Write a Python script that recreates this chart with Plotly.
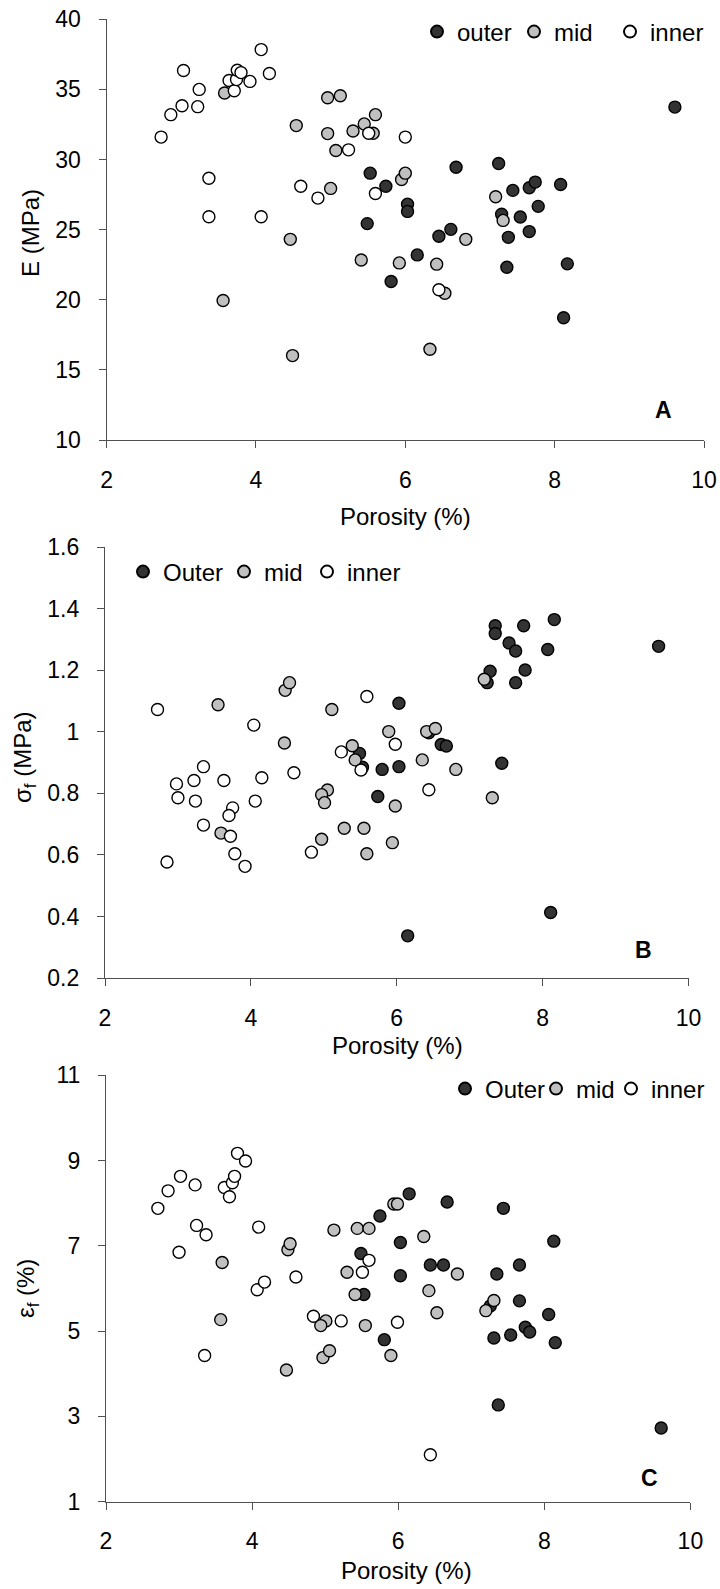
import plotly.graph_objects as go

W, H = 720, 1589

# ---------------- Panel A : E (MPa) ----------------
a_outer_x = [5.53, 5.49, 5.74, 6.03, 6.03, 6.16, 6.45, 6.61, 6.68, 7.25, 7.29, 7.44, 7.38, 7.54,
             7.66, 7.66, 7.74, 7.78, 8.08, 9.61, 5.81, 7.36, 8.17, 8.12]
a_outer_y = [29.03, 25.43, 28.10, 26.82, 26.30, 23.20, 24.53, 25.02, 29.45, 29.72, 26.10, 27.80, 24.45, 25.90,
             27.99, 24.86, 28.39, 26.66, 28.22, 33.74, 21.30, 22.32, 22.56, 18.72]
a_mid_x = [3.58, 4.54, 4.46, 4.96, 5.13, 4.96, 5.00, 5.07, 5.30, 5.45, 5.60, 5.57, 5.95, 6.00,
           6.81, 7.21, 7.31, 3.56, 4.49, 5.41, 5.92, 6.42, 6.53, 6.33]
a_mid_y = [34.74, 32.42, 24.31, 34.41, 34.55, 31.85, 27.94, 30.64, 32.04, 32.54, 33.20, 31.87, 28.58, 29.03,
           24.31, 27.35, 25.66, 19.95, 16.02, 22.84, 22.63, 22.54, 20.47, 16.47]
a_inner_x = [2.73, 2.86, 3.01, 3.03, 3.22, 3.24, 3.37, 3.37, 3.64, 3.71, 3.74, 3.75, 3.80, 3.92,
             4.07, 4.07, 4.18, 4.60, 4.83, 5.24, 5.51, 5.60, 6.00, 6.45]
a_inner_y = [31.60, 33.20, 33.84, 36.35, 33.77, 35.00, 28.67, 25.92, 35.64, 34.90, 35.70, 36.37, 36.20, 35.57,
             37.84, 25.92, 36.14, 28.10, 27.25, 30.69, 31.87, 27.58, 31.60, 20.71]

# ---------------- Panel B : sigma_f (MPa) ----------------
b_outer_x = [7.35, 7.35, 7.74, 8.16, 7.54, 7.63, 8.07, 9.59, 7.28, 7.24, 7.76, 7.63, 6.03, 6.44,
             6.61, 6.68, 5.49, 5.53, 5.80, 6.03, 7.44, 5.74, 6.15, 8.11]
b_outer_y = [1.345, 1.320, 1.345, 1.365, 1.289, 1.263, 1.268, 1.278, 1.197, 1.160, 1.201, 1.160, 1.093, 0.997,
             0.959, 0.954, 0.930, 0.885, 0.878, 0.887, 0.898, 0.790, 0.337, 0.413]
b_mid_x = [3.55, 4.47, 4.53, 5.11, 4.46, 5.39, 5.43, 5.89, 6.41, 6.53, 6.35, 6.81, 7.20, 7.31,
           5.05, 4.97, 5.01, 5.98, 3.59, 4.97, 5.28, 5.55, 5.94, 5.59]
b_mid_y = [1.088, 1.135, 1.160, 1.073, 0.964, 0.955, 0.909, 1.001, 1.001, 1.011, 0.909, 0.878, 1.171, 0.786,
           0.811, 0.796, 0.770, 0.759, 0.671, 0.651, 0.687, 0.687, 0.640, 0.604]
b_inner_x = [2.72, 4.04, 5.59, 5.98, 5.24, 5.51, 3.35, 2.98, 3.22, 3.63, 4.15, 4.59, 3.00, 3.24,
             4.06, 6.44, 3.75, 3.70, 3.35, 3.72, 3.78, 3.92, 2.85, 4.83]
b_inner_y = [1.073, 1.022, 1.115, 0.960, 0.935, 0.876, 0.887, 0.831, 0.842, 0.842, 0.851, 0.867, 0.786, 0.775,
             0.775, 0.812, 0.753, 0.728, 0.697, 0.661, 0.604, 0.563, 0.577, 0.609]

# ---------------- Panel C : epsilon_f (%) ----------------
c_outer_x = [6.15, 6.67, 7.44, 5.75, 6.03, 8.13, 5.49, 6.44, 6.62, 7.66, 6.03, 7.35, 5.53, 7.66,
             7.26, 8.06, 7.74, 7.80, 7.54, 7.31, 5.81, 8.15, 7.37, 9.60]
c_outer_y = [8.22, 8.03, 7.88, 7.70, 7.08, 7.11, 6.82, 6.55, 6.55, 6.55, 6.30, 6.34, 5.86, 5.71,
             5.59, 5.39, 5.09, 4.98, 4.91, 4.84, 4.80, 4.73, 3.27, 2.73]
c_mid_x = [3.59, 4.49, 4.52, 5.12, 5.44, 5.60, 5.94, 5.99, 6.35, 5.30, 5.41, 6.42, 6.81, 6.53,
           7.20, 7.31, 3.57, 5.01, 4.94, 5.55, 4.97, 5.06, 5.90, 4.47]
c_mid_y = [6.61, 6.91, 7.05, 7.37, 7.41, 7.41, 7.98, 7.98, 7.22, 6.38, 5.86, 5.95, 6.34, 5.43,
           5.48, 5.72, 5.27, 5.24, 5.13, 5.13, 4.38, 4.54, 4.43, 4.09]
c_inner_x = [2.71, 2.85, 3.02, 3.22, 3.00, 3.24, 3.37, 3.62, 3.69, 3.73, 3.76, 3.80, 3.91, 4.09,
             4.07, 4.17, 4.60, 5.60, 5.51, 4.84, 5.22, 5.99, 3.35, 6.44]
c_inner_y = [7.88, 8.29, 8.63, 8.43, 6.85, 7.48, 7.26, 8.37, 8.15, 8.48, 8.63, 9.17, 8.99, 7.44,
             5.97, 6.15, 6.27, 6.66, 6.38, 5.35, 5.24, 5.21, 4.43, 2.10]

legend_names = [["outer", "mid", "inner"],
                ["Outer", "mid", "inner"],
                ["Outer", "mid", "inner"]]
fills = ["#333333", "#c0c0c0", "#ffffff"]

x_title = "Porosity (%)"
y_titles = ["E (MPa)", "σ<sub>f</sub> (MPa)", "ε<sub>f</sub> (%)"]
panel_labels = ["A", "B", "C"]
y_ranges = [[10, 40], [0.2, 1.6], [1, 11]]
y_dticks = [5, 0.2, 2]
y_tick0 = [10, 0.2, 1]

# ---- layout, in window pixels (left, right, top, bottom) ----
boxes = [(106.6, 704.0, 19.3, 440.0),
         (105.0, 688.5, 547.3, 978.0),
         (106.0, 690.4, 1075.3, 1501.7)]
leg_x = [(439, 536, 632), (145, 246, 329), (467, 558, 633)]   # symbol centres
leg_y = [32, 572, 1089]
label_pos = [(663, 410), (643, 950), (649, 1478)]
xtitle_pos = [(405, 517), (397, 1045), (406, 1570)]
ytitle_pos = [(30, 233), (24, 758), (27, 1289)]

FONT = "Liberation Sans, Arial, sans-serif"
AX = "#505050"


def fx(p):
    return p / W


def fy(p):
    return 1 - p / H


data = [
    [(a_outer_x, a_outer_y), (a_mid_x, a_mid_y), (a_inner_x, a_inner_y)],
    [(b_outer_x, b_outer_y), (b_mid_x, b_mid_y), (b_inner_x, b_inner_y)],
    [(c_outer_x, c_outer_y), (c_mid_x, c_mid_y), (c_inner_x, c_inner_y)],
]

fig = go.Figure()
layout = dict(
    width=W, height=H,
    margin=dict(l=0, r=0, t=0, b=0, pad=0, autoexpand=False),
    paper_bgcolor="white", plot_bgcolor="white",
    font=dict(family=FONT, size=23, color="black"),
    showlegend=True,
)

annotations = []
n = 0
for i in range(3):
    k = "" if i == 0 else str(i + 1)
    xa, ya = "x" + k, "y" + k
    for j in range(3):
        n += 1
        leg = "legend" if n == 1 else "legend" + str(n)
        xs, ys = data[i][j]
        fig.add_trace(go.Scatter(
            x=xs, y=ys, mode="markers", name=legend_names[i][j],
            xaxis=xa, yaxis=ya, legend=leg,
            marker=dict(size=12, color=fills[j], line=dict(color="black", width=1.4)),
            hoverinfo="x+y",
        ))
        layout[leg] = dict(
            x=fx(leg_x[i][j] - 22), y=fy(leg_y[i]), xanchor="left", yanchor="middle",
            orientation="h", font=dict(size=24), bgcolor="rgba(0,0,0,0)",
            itemsizing="constant",
        )
    l, r, t, b = boxes[i]
    layout["xaxis" + k] = dict(
        domain=[fx(l), fx(r)], anchor=ya, range=[2, 10], dtick=2, tick0=2,
        showline=True, linecolor=AX, linewidth=1.2, ticks="outside", ticklen=7,
        tickcolor=AX, tickwidth=1.2, showgrid=False, zeroline=False, automargin=False,
        tickfont=dict(size=23), ticklabelstandoff=12, ticklabeloverflow="allow",
    )
    layout["yaxis" + k] = dict(
        domain=[fy(b), fy(t)], anchor=xa, range=y_ranges[i], dtick=y_dticks[i],
        tick0=y_tick0[i],
        showline=True, linecolor=AX, linewidth=1.2, ticks="outside", ticklen=7,
        tickcolor=AX, tickwidth=1.2, showgrid=False, zeroline=False, automargin=False,
        tickfont=dict(size=23), ticklabelstandoff=13, ticklabeloverflow="allow",
    )
    # axis titles
    tx, ty = xtitle_pos[i]
    annotations.append(dict(
        x=fx(tx), y=fy(ty), xref="paper", yref="paper", text=x_title, showarrow=False,
        font=dict(size=24, family=FONT), xanchor="center", yanchor="middle",
    ))
    tx, ty = ytitle_pos[i]
    annotations.append(dict(
        x=fx(tx), y=fy(ty), xref="paper", yref="paper", text=y_titles[i], showarrow=False,
        font=dict(size=24, family=FONT), xanchor="center", yanchor="middle", textangle=-90,
    ))
    # panel letter
    px_, py_ = label_pos[i]
    annotations.append(dict(
        x=fx(px_), y=fy(py_), xref="paper", yref="paper", text="<b>%s</b>" % panel_labels[i],
        showarrow=False, font=dict(size=23, family=FONT), xanchor="center", yanchor="middle",
    ))

layout["annotations"] = annotations
fig.update_layout(**layout)
# remove the browser's default 8 px page margin so the figure fills the window exactly
fig.write_html("out.html", config={"displayModeBar": False},
               post_script="document.body.style.margin='0px';")
